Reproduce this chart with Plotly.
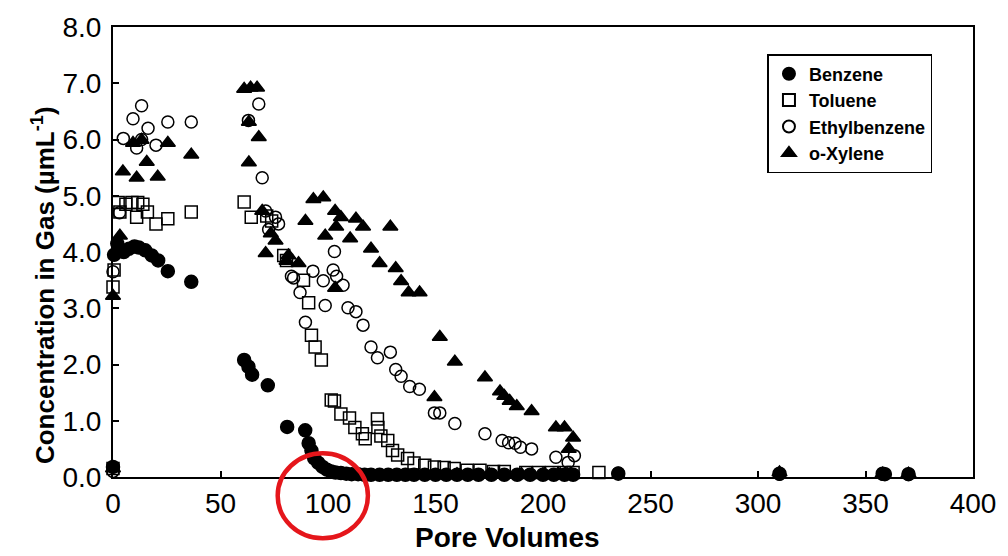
import plotly.graph_objects as go

# Pore volumes (x) and gas-phase concentrations (y, µmL-1) per compound
benzene_pv = [0, 0.5, 2, 3.5, 5, 7.5, 10, 12, 15, 18, 21, 25.5, 36.4,
              61, 63, 64.7, 72, 81, 89.4, 91, 92.3, 93.6, 95.5, 97.5, 99.5,
              101.5, 103.5, 106, 108.5, 111, 114, 117, 120, 124, 128, 132,
              136, 140, 145, 150, 155, 160, 165, 170, 176, 182, 188, 194,
              200, 205, 210, 214, 235, 310, 358, 359, 370]
benzene_conc = [0.18, 3.95, 4.15, 4.03, 4.0, 4.06, 4.1, 4.08, 4.03, 3.94, 3.85, 3.66, 3.47,
                2.08, 1.96, 1.82, 1.63, 0.89, 0.83, 0.6, 0.47, 0.33, 0.25, 0.18, 0.13,
                0.1, 0.08, 0.07, 0.06, 0.05, 0.05, 0.04, 0.04, 0.04, 0.04, 0.04,
                0.04, 0.04, 0.04, 0.04, 0.04, 0.04, 0.04, 0.04, 0.04, 0.04, 0.04, 0.04,
                0.04, 0.04, 0.04, 0.04, 0.06, 0.06, 0.06, 0.05, 0.05]

toluene_pv = [0, 0, 0.5, 2.4, 3.2, 6, 8.8, 11, 11.5, 13.9, 16, 20, 25.5, 36.4,
              61, 64.3, 71.5, 73.8, 79.4, 80.7, 88.6, 91, 92.3, 94, 96.9,
              101.5, 103, 106, 110, 112.5, 116, 117.3, 123, 123.2, 124.6, 127.8,
              130, 132.4, 137, 140, 145, 149.5, 154, 158.7, 164.7, 170.7, 177,
              182, 192, 198, 204, 210, 214, 226]
toluene_conc = [0.15, 3.38, 3.68, 4.88, 4.71, 4.85, 4.88, 4.62, 4.88, 4.85, 4.71, 4.5, 4.59, 4.71,
                4.89, 4.62, 4.64, 4.55, 3.94, 3.85, 3.5, 3.1, 2.52, 2.31, 2.08,
                1.37, 1.35, 1.12, 1.05, 0.88, 0.77, 0.68, 1.03, 0.88, 0.73, 0.65,
                0.47, 0.39, 0.33, 0.25, 0.21, 0.18, 0.17, 0.15, 0.12, 0.12, 0.1,
                0.1, 0.08, 0.08, 0.08, 0.08, 0.08, 0.08]

ethylbenzene_pv = [0, 0, 3, 4.8, 9.3, 11, 13.3, 13.3, 16.3, 20, 25.5, 36.4,
                   63, 67.8, 69.4, 71, 72.4, 75.6, 77, 83, 84, 87, 89.5, 93,
                   97.8, 98.7, 102.4, 103, 104, 107, 109.3, 113, 116.3, 120, 123,
                   129, 131.5, 134, 138, 142.5, 149.5, 152, 159, 173, 181, 184,
                   187, 189.5, 194.7, 206, 211.7, 214.6, 235, 310, 358, 370]
ethylbenzene_conc = [0.1, 3.65, 4.7, 6.02, 6.37, 5.85, 6.6, 6.0, 6.2, 5.9, 6.31, 6.31,
                     6.34, 6.63, 5.32, 4.73, 4.4, 4.62, 4.5, 3.57, 3.54, 3.28, 2.75, 3.66,
                     3.49, 3.05, 3.68, 4.01, 3.57, 3.41, 3.01, 2.94, 2.7, 2.31, 2.12,
                     2.22, 1.91, 1.79, 1.61, 1.56, 1.14, 1.14, 0.95, 0.77, 0.65, 0.61,
                     0.6, 0.53, 0.5, 0.35, 0.26, 0.38, 0.07, 0.05, 0.05, 0.05]

oxylene_pv = [0, 0, 3.2, 4.6, 9.3, 11, 13.3, 15.7, 20.8, 25.5, 36.4,
              61, 64, 67, 63.2, 67.8, 63.2, 69.4, 71, 73.4, 75.6, 80.7, 81.6,
              86.3, 89.5, 93.2, 97.8, 98.7, 103.3, 103.3, 103.8, 106, 110.3, 113,
              116.3, 120, 124, 129, 131.5, 134, 137.5, 142.6, 149.5, 152, 159,
              173, 180, 182, 184.5, 187.8, 194.7, 206, 210, 214, 212,
              160, 175, 190, 200, 208, 213, 310, 358, 370]
oxylene_conc = [0.15, 3.22, 4.29, 5.43, 5.94, 5.32, 5.99, 5.6, 5.34, 5.94, 5.73,
                6.9, 6.92, 6.92, 6.31, 6.04, 5.59, 4.73, 3.98, 4.33, 4.2, 3.84, 3.94,
                3.8, 4.55, 4.94, 4.97, 4.29, 4.73, 3.36, 4.45, 4.62, 4.24, 4.59,
                4.45, 4.06, 3.8, 4.45, 3.71, 3.48, 3.28, 3.28, 1.42, 2.49, 2.05,
                1.77, 1.52, 1.44, 1.35, 1.26, 1.17, 0.88, 0.88, 0.7, 0.5,
                0.05, 0.05, 0.05, 0.05, 0.05, 0.05, 0.08, 0.06, 0.06]

x_ticks = [0, 50, 100, 150, 200, 250, 300, 350, 400]
y_ticks = [0, 1, 2, 3, 4, 5, 6, 7, 8]

FONT = "Liberation Sans, Arial, sans-serif"

series = [
    ("Benzene", benzene_pv, benzene_conc, "circle", 13),
    ("Toluene", toluene_pv, toluene_conc, "square-open", 12),
    ("Ethylbenzene", ethylbenzene_pv, ethylbenzene_conc, "circle-open", 12),
    ("o-Xylene", oxylene_pv, oxylene_conc, "triangle-up", 13),
]

fig = go.Figure()
for name, xs, ys, symbol, size in series:
    fig.add_trace(go.Scatter(
        x=xs, y=ys, mode="markers", name=name, cliponaxis=False,
        marker=dict(symbol=symbol, size=size, color="black",
                    line=dict(color="black", width=1.5)),
    ))

axis_common = dict(
    showline=True, linecolor="black", linewidth=2, mirror=True,
    ticks="inside", ticklen=6, tickwidth=1.5, tickcolor="black",
    showgrid=False, zeroline=False,
    tickfont=dict(family=FONT, size=28, color="black"),
)

fig.update_xaxes(range=[0, 400], tickvals=x_ticks, ticklabelstandoff=0, **axis_common)
fig.update_yaxes(range=[0, 8], tickvals=y_ticks, tickformat=".1f",
                 ticklabelstandoff=4, **axis_common)

fig.update_layout(
    width=1008, height=556,
    margin=dict(l=113, r=28, t=21, b=79),
    plot_bgcolor="white", paper_bgcolor="white",
    font=dict(family=FONT, color="black"),
    legend=dict(
        x=0.761, y=0.94, xanchor="left", yanchor="top",
        bordercolor="black", borderwidth=1.5, bgcolor="white",
        font=dict(family=FONT, size=18, color="black", weight="bold"),
        itemsizing="constant", itemwidth=30,
    ),
    annotations=[
        dict(text="<b>Pore Volumes</b>", xref="paper", yref="paper",
             x=0.459, y=-0.134, xanchor="center", yanchor="middle",
             showarrow=False, font=dict(family=FONT, size=28, color="black")),
        dict(text="<b>Concentration in Gas (µmL<sup>-1</sup>)</b>",
             xref="paper", yref="paper", x=-0.08, y=0.427,
             xanchor="center", yanchor="middle", textangle=-90,
             showarrow=False, font=dict(family=FONT, size=26, color="black")),
    ],
    shapes=[
        dict(type="circle", xref="paper", yref="paper",
             x0=0.1915, x1=0.2964, y0=-0.136, y1=0.0526,
             line=dict(color="#e5161b", width=4.5), layer="above"),
    ],
)

fig.write_html("out.html")
